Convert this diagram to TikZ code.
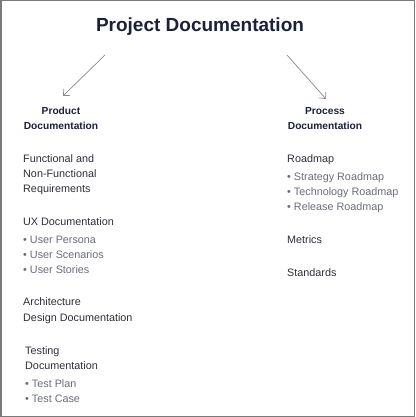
\documentclass[tikz,border=0pt]{standalone}
\usepackage{fontspec}
\setmainfont{Liberation Sans}
\usetikzlibrary{arrows.meta}
\definecolor{titlec}{HTML}{1C2038}
\definecolor{bodyc}{HTML}{2E2E38}
\definecolor{bulc}{HTML}{6A6C7A}
\definecolor{framec}{HTML}{7A7A7A}
\definecolor{arrc}{HTML}{8A8A8A}
\tikzset{
  ttl/.style={font=\fontsize{19}{22}\selectfont\bfseries, text=titlec, inner sep=0pt},
  head/.style={font=\fontsize{10.2}{15}\selectfont\bfseries, text=titlec, inner sep=0pt, align=center, anchor=base},
  txt/.style={font=\fontsize{10.8}{15}\selectfont, text=bodyc, inner sep=0pt, anchor=base west},
  bul/.style={font=\fontsize{10.8}{15}\selectfont, text=bulc, inner sep=0pt, anchor=base west},
  conn/.style={draw=arrc, line width=0.7pt, -{Straight Barb[length=5pt,width=9pt]}}
}
\begin{document}
\begin{tikzpicture}[x=1pt,y=-1pt]
\useasboundingbox (0,0) rectangle (415,417);
\draw[framec, line width=1.5pt] (0.75,0.75) rectangle (414.25,416.25);
\node[ttl, anchor=base] (title) at (200,32) {Project Documentation};
% headings
\node[head] (prod1) at (61,114) {Product};
\node[head] (prod2) at (61,129) {Documentation};
\node[head] (proc1) at (325,114) {Process};
\node[head] (proc2) at (325,129) {Documentation};
\coordinate (a1s) at (105,55);
\coordinate (a1e) at (63,96);
\coordinate (a2s) at (287,55);
\coordinate (a2e) at (326,99);
\draw[conn] (a1s) -- (a1e);
\draw[conn] (a2s) -- (a2e);
% left column
\node[txt] (f1) at (23,162) {Functional and};
\node[txt] (f2) at (23,177) {Non-Functional};
\node[txt] (f3) at (23,192) {Requirements};
\node[txt] (ux) at (23,225) {UX Documentation};
\node[bul] (ux1) at (23,243) {• User Persona};
\node[bul] (ux2) at (23,258) {• User Scenarios};
\node[bul] (ux3) at (23,273) {• User Stories};
\node[txt] (ar1) at (23,305) {Architecture};
\node[txt] (ar2) at (23,321) {Design Documentation};
\node[txt] (te1) at (25,354) {Testing};
\node[txt] (te2) at (25,369) {Documentation};
\node[bul] (te3) at (25,387) {• Test Plan};
\node[bul] (te4) at (25,402) {• Test Case};
% right column
\node[txt] (rm) at (287,162) {Roadmap};
\node[bul] (rm1) at (287,180) {• Strategy Roadmap};
\node[bul] (rm2) at (287,195) {• Technology Roadmap};
\node[bul] (rm3) at (287,210) {• Release Roadmap};
\node[txt] (me) at (287,243) {Metrics};
\node[txt] (st) at (287,276) {Standards};
\end{tikzpicture}
\end{document}
